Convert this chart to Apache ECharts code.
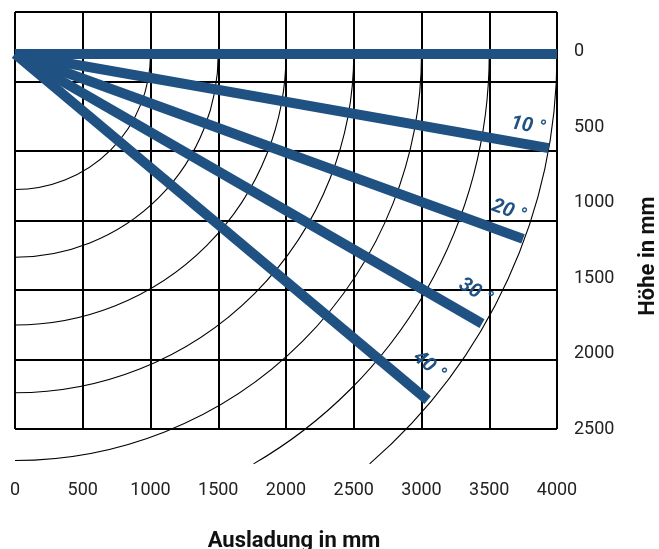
<!DOCTYPE html>
<html>
<head>
<meta charset="utf-8">
<script src="https://cdn.jsdelivr.net/npm/echarts@6/dist/echarts.min.js"></script>
<style>
  html, body { margin: 0; padding: 0; background: #fff; }
  #chart { width: 659px; height: 549px; }
</style>
</head>
<body>
<div id="chart"></div>
<script>
// ---- data ----
const beamAngles  = [0, 10, 20, 30, 40];            // degrees below horizontal
const beamLengths = [4000, 4000, 3990, 3980, 3975]; // mm along the beam
const beamLabels  = ['', '10 °', '20 °', '30 °', '40 °'];
const arcRadii    = [1000, 1500, 2000, 2500, 3000, 3500, 4000]; // mm
const arcMaxHeight = 3025;                           // arcs cut off at this height (mm)
const xTickLabels = [0, 500, 1000, 1500, 2000, 2500, 3000, 3500, 4000];
const yTickLabels = [0, 500, 1000, 1500, 2000, 2500];

const BLUE = '#1f5282';
const FONT = 'Roboto';

const chart = echarts.init(document.getElementById('chart'), null, { renderer: 'canvas' });

const plain = v => String(v);

const option = {
  animation: false,
  backgroundColor: '#fff',
  grid: { left: 15, right: 102, top: 12, bottom: 120, containLabel: false },
  xAxis: {
    type: 'value', min: 0, max: 4000, interval: 500,
    axisLine: { show: false }, axisTick: { show: false },
    axisLabel: {
      fontFamily: FONT, fontSize: 18, color: '#222', margin: 52,
      customValues: xTickLabels, formatter: plain
    },
    splitLine: { show: true, lineStyle: { color: '#000', width: 2 } }
  },
  yAxis: [
    { // geometry axis (same mm-per-pixel as x), hidden labels, carries the horizontal grid
      type: 'value', inverse: true, min: -310, max: 2768, interval: 513,
      axisLine: { show: false }, axisTick: { show: false }, axisLabel: { show: false },
      splitLine: { show: true, lineStyle: { color: '#000', width: 2 } }
    },
    { // height label axis on the right
      type: 'value', inverse: true, position: 'right', min: -262, max: 2500,
      axisLine: { show: false }, axisTick: { show: false }, splitLine: { show: false },
      axisLabel: {
        fontFamily: FONT, fontSize: 18, color: '#222', margin: 17,
        customValues: yTickLabels, formatter: plain
      }
    }
  ],
  graphic: [
    { type: 'text', x: 294, y: 541,
      style: { text: 'Ausladung in mm', font: 'bold 22px ' + FONT, fill: '#111',
               align: 'center', verticalAlign: 'middle' } },
    { type: 'text', x: 648, y: 256, rotation: Math.PI / 2,
      style: { text: 'Höhe in mm', font: 'bold 22px ' + FONT, fill: '#111',
               align: 'center', verticalAlign: 'middle' } }
  ],
  series: [
    {
      name: 'arcs', type: 'custom', coordinateSystem: 'cartesian2d',
      xAxisIndex: 0, yAxisIndex: 0, silent: true, clip: false,
      data: arcRadii.map(r => [r, 0]),
      renderItem: function (params, api) {
        const r = api.value(0);
        const c = api.coord([0, 0]);
        const rPx = api.size([r, 0])[0];
        const end = r <= arcMaxHeight ? Math.PI / 2 : Math.asin(arcMaxHeight / r);
        return {
          type: 'arc',
          shape: { cx: c[0], cy: c[1], r: rPx, startAngle: 0, endAngle: end, clockwise: true },
          style: { stroke: '#000', fill: null, lineWidth: 1.1 }
        };
      }
    },
    {
      name: 'beams', type: 'custom', coordinateSystem: 'cartesian2d',
      xAxisIndex: 0, yAxisIndex: 0, silent: true, clip: false,
      data: beamAngles.map((a, i) => [a, beamLengths[i], i]),
      renderItem: function (params, api) {
        const a = api.value(0) * Math.PI / 180;
        const L = api.value(1);
        const idx = api.value(2);
        const p0 = api.coord([0, 0]);
        const p1 = api.coord([L * Math.cos(a), L * Math.sin(a)]);
        const children = [{
          type: 'line',
          shape: { x1: p0[0], y1: p0[1], x2: p1[0], y2: p1[1] },
          style: { stroke: BLUE, lineWidth: 10, lineCap: 'butt' }
        }];
        const txt = beamLabels[idx];
        if (txt) {
          const pa = api.coord([3820 * Math.cos(a), 3820 * Math.sin(a)]);
          const off = 15 + 0.3 * api.value(0);
          children.push({
            type: 'text',
            x: pa[0] + off * Math.sin(a),
            y: pa[1] - off * Math.cos(a),
            rotation: -a,
            style: { text: txt, font: 'italic bold 20px ' + FONT, fill: BLUE,
                     align: 'center', verticalAlign: 'middle' }
          });
        }
        return { type: 'group', children: children };
      }
    }
  ]
};
chart.setOption(option);
</script>
</body>
</html>
